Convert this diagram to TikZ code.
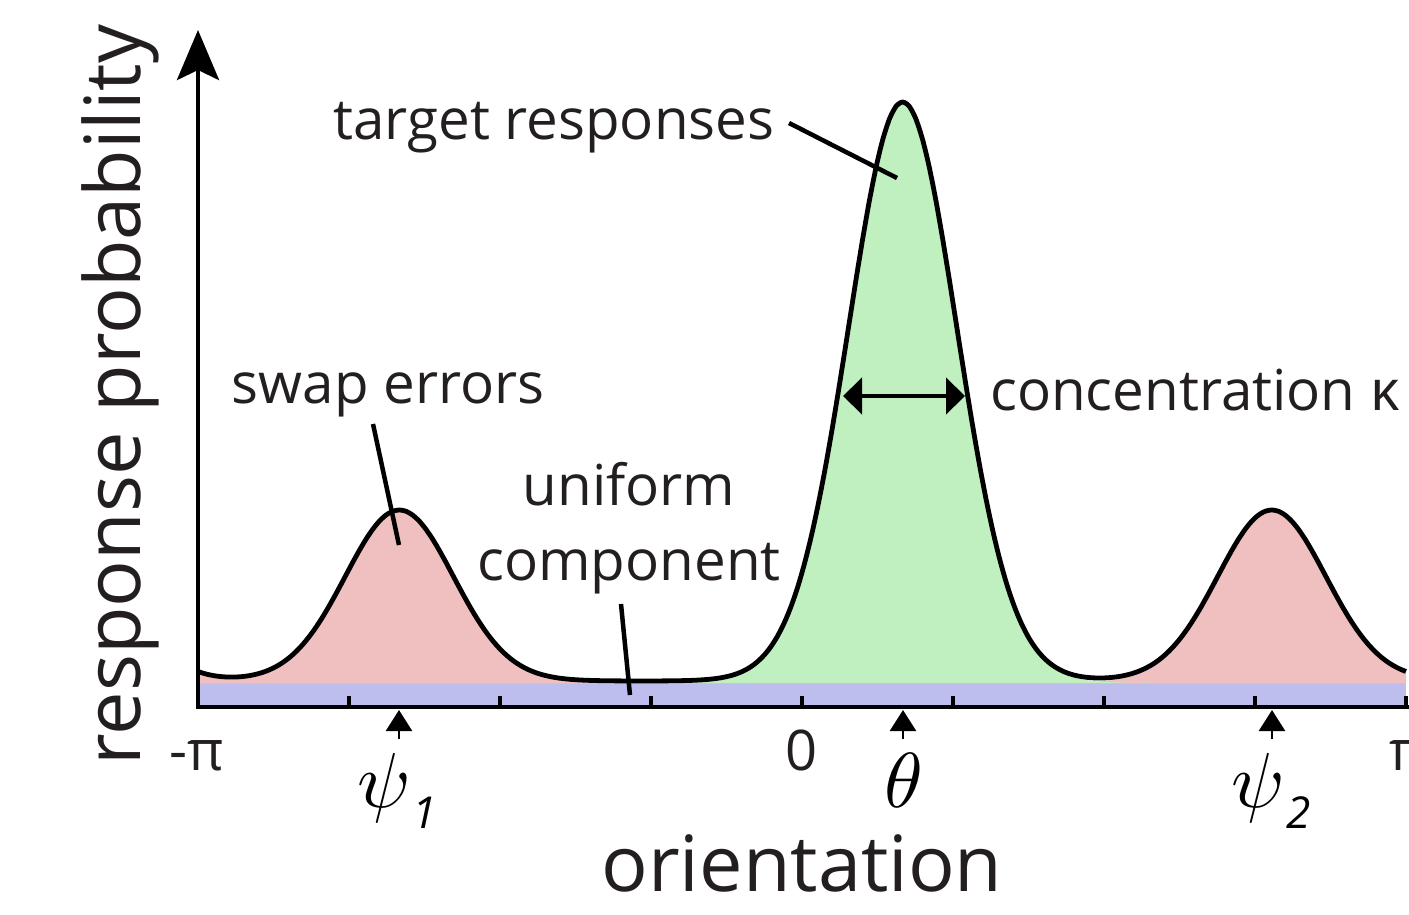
\documentclass[tikz,border=0pt]{standalone}
\usepackage{graphicx}
\usepackage{fontspec}
\setmainfont{Open Sans}
\usetikzlibrary{arrows.meta}

\definecolor{ink}{HTML}{231F20}
\definecolor{swapfill}{RGB}{240,192,192}
\definecolor{targetfill}{RGB}{192,240,192}
\definecolor{unifill}{RGB}{190,190,238}

% large math symbol with an italic sans index
\newcommand{\bigsym}[1]{\scalebox{7.8}{$#1$}}
\newcommand{\symidx}[1]{\kern1pt\raisebox{-21pt}{\fontsize{44}{50}\selectfont\itshape #1}}

\begin{document}
\begin{tikzpicture}[x=1pt,y=-1pt,
  declare function={vm(\t,\m)=exp(12.5*(cos(\t-\m)-1));
                    px(\t)=802+3.355556*\t;},
  lbl/.style={text=ink, inner sep=0pt, font=\fontsize{56.5}{64}\selectfont},
  ticklbl/.style={text=ink, inner sep=0pt, font=\fontsize{56}{64}\selectfont},
  bigLbl/.style={text=ink, inner sep=0pt, font=\fontsize{77.5}{88}\selectfont},
  mathlbl/.style={text=black, inner sep=0pt},
  axisline/.style={line width=4.5pt, line join=miter},
  tickmark/.style={line width=4pt},
  leader/.style={line width=4.5pt},
  curve/.style={line width=4.8pt, line join=round},
  pointer/.style={line width=2.5pt, -{Triangle[length=21pt,width=26pt]}},
  widthmark/.style={line width=4.5pt, {Triangle[length=19pt,width=36pt]}-{Triangle[length=19pt,width=36pt]}}]

\useasboundingbox (0,0) rectangle (1409,914);

% uniform component band
\fill[unifill] (198,683) rectangle (1406,707);

% swap-error components (both von Mises bumps, wrapped on the circle)
\fill[swapfill] (198,683) --
  plot[domain=-180:180, samples=361, variable=\t]
    ({px(\t)},{683-171*(vm(\t,-120)+vm(\t,140))}) -- (1406,683) -- cycle;

% target component
\fill[targetfill] (198,683) --
  plot[domain=-180:180, samples=361, variable=\t]
    ({px(\t)},{683-579*vm(\t,30)}) -- (1406,683) -- cycle;

% full mixture density
\draw[curve] plot[domain=-180:180, samples=541, variable=\t]
    ({px(\t)},{681-171*(vm(\t,-120)+vm(\t,140))-579*vm(\t,30)});

% axes
\coordinate (ytip) at (198,30);
\coordinate (origin) at (198,707);
\coordinate (xend) at (1409,707);
\draw[axisline, {Stealth[length=50pt,width=42pt,inset=10pt]}-] (ytip) -- (origin) -- (xend);
\foreach \k in {1,...,8}
  \draw[tickmark] (198+151*\k,709) -- (198+151*\k,696);

% tick labels
\node[ticklbl, anchor=base] (mpi) at (197,770) {-π};
\node[ticklbl, anchor=base] (zero) at (802,770) {0};
\node[ticklbl, anchor=base] (ppi) at (1408,770) {π};

% stimulus markers
\coordinate (p1a) at (399,739); \coordinate (p1b) at (399,710);
\coordinate (pta) at (903,739); \coordinate (ptb) at (903,710);
\coordinate (p2a) at (1272,739); \coordinate (p2b) at (1272,710);
\draw[pointer] (p1a) -- (p1b);
\draw[pointer] (pta) -- (ptb);
\draw[pointer] (p2a) -- (p2b);

\node[mathlbl, anchor=base] (psi1) at (397,807) {\bigsym{\psi}\symidx{1}};
\node[mathlbl, anchor=base] (theta) at (904,807) {\bigsym{\theta}};
\node[mathlbl, anchor=base] (psi2) at (1271,807) {\bigsym{\psi}\symidx{2}};

% axis titles
\node[bigLbl, anchor=base] (xlabel) at (802,891) {orientation};
\node[bigLbl, anchor=base, rotate=90] (ylabel) at (140,395) {response probability};

% annotations
\node[lbl, anchor=base] (target) at (554,139) {target responses};
\coordinate (tgtA) at (789,123);
\coordinate (tgtB) at (897,178);
\draw[leader] (tgtA) -- (tgtB);

\node[lbl, anchor=base] (swap) at (388,403) {swap errors};
\coordinate (swpA) at (373,424);
\coordinate (swpB) at (399,545);
\draw[leader] (swpA) -- (swpB);

\node[lbl, anchor=base] (uni1) at (629,505) {uniform};
\node[lbl, anchor=base] (uni2) at (629,580) {component};
\coordinate (uniA) at (621,604);
\coordinate (uniB) at (630,695);
\draw[leader] (uniA) -- (uniB);

\coordinate (kapL) at (843,396);
\coordinate (kapR) at (965,396);
\draw[widthmark] (kapL) -- (kapR);
\node[lbl, anchor=base west] (kappa) at (990,410) {concentration κ};

\end{tikzpicture}
\end{document}
